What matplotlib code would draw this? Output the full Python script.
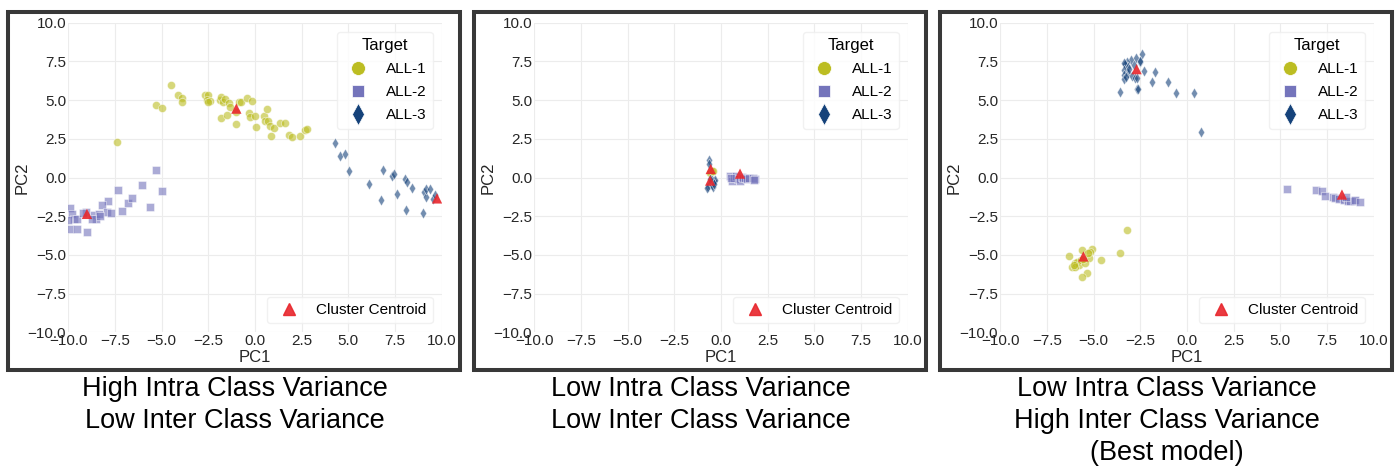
import matplotlib.pyplot as plt
from matplotlib.lines import Line2D
from matplotlib.patches import Rectangle

plt.rcParams['font.family'] = ['Liberation Sans', 'DejaVu Sans']

##########################################################################################
# Data
classes = ['ALL-1', 'ALL-2', 'ALL-3']
captions = ['High Intra Class Variance\nLow Inter Class Variance',
            'Low Intra Class Variance\nLow Inter Class Variance',
            'Low Intra Class Variance\nHigh Inter Class Variance\n(Best model)']
ticks = [-10, -7.5, -5, -2.5, 0, 2.5, 5, 7.5, 10]

# panel 1: high intra / low inter
p1_all1_x = [-4.5, -4.1, -3.9, -3.9, -5.3, -5.0, -7.4, -2.7, -2.5, -2.55, -2.4, -2.5, -1.9, -1.8,
             -1.7, -1.6, -1.4, -1.35, -1.8, -1.5, -1.0, -1.0, -0.85, -0.75, -0.45, -0.15, -0.3,
             -0.25, 0.0, 0.05, 0.5, 0.65, 0.55, 0.7, 0.8, 1.0, 0.85, 1.35, 1.6, 1.8, 2.0, 2.4, 2.7, 2.8]
p1_all1_y = [6.0, 5.35, 5.15, 4.9, 4.7, 4.5, 2.3, 5.3, 5.3, 5.0, 4.95, 4.85, 5.0, 5.2,
             4.85, 5.05, 4.8, 4.55, 3.85, 4.05, 3.45, 4.25, 4.85, 4.85, 5.15, 4.95, 4.15,
             3.9, 3.95, 3.25, 4.0, 4.4, 3.65, 3.65, 3.35, 3.2, 2.7, 3.5, 3.5, 2.75, 2.6, 2.65, 3.1, 3.15]
p1_all2_x = [-5.3, -5.0, -6.05, -5.6, -7.35, -7.85, -8.2, -7.95, -7.7, -7.1, -6.8, -6.6, -9.9,
             -9.8, -9.7, -9.55, -9.9, -9.55, -9.0, -9.05, -8.6, -8.5, -8.35, -8.3, -8.75, -9.2, -10.0]
p1_all2_y = [0.5, -0.85, -0.5, -1.9, -0.8, -1.5, -1.75, -2.25, -2.3, -2.15, -1.65, -1.35, -1.95,
             -2.35, -2.65, -2.7, -3.3, -3.3, -3.5, -2.25, -2.45, -2.7, -2.35, -2.5, -2.65, -2.3, -2.75]
p1_all3_x = [4.3, 4.55, 4.8, 5.05, 6.1, 6.85, 6.75, 7.35, 7.45, 7.6, 8.05, 8.15, 8.4, 8.1,
             9.0, 9.05, 9.15, 9.15, 9.4, 9.55, 9.65]
p1_all3_y = [2.25, 1.4, 1.5, 0.45, -0.4, 0.5, -1.45, 0.1, 0.2, -1.05, -0.1, -0.3, -0.7, -2.1,
             -2.3, -0.95, -1.25, -0.75, -0.75, -1.4, -1.15]
p1_cent_x = [-1.0, -9.0, 9.75]
p1_cent_y = [4.45, -2.35, -1.35]

# panel 2: low intra / low inter
p2_all1_x = [-0.55, -0.5, -0.6, -0.45]
p2_all1_y = [0.35, 0.45, 0.3, 0.4]
p2_all2_x = [0.5, 0.6, 0.7, 0.8, 0.9, 1.0, 1.1, 1.2, 1.3, 1.4, 1.5, 1.7, 1.8, 1.75, 0.55]
p2_all2_y = [0.1, -0.2, 0.0, 0.1, -0.1, -0.25, 0.05, -0.05, 0.0, -0.1, -0.05, 0.0, -0.1, -0.15, 0.0]
p2_all3_x = [-0.64, -0.62, -0.7, -0.65, -0.6, -0.55, -0.5, -0.45, -0.4, -0.35, -0.3, -0.75,
             -0.5, -0.6, -0.45, -0.35]
p2_all3_y = [1.1, 0.9, -0.6, -0.5, -0.4, -0.3, -0.5, -0.35, -0.25, -0.2, -0.15, -0.7,
             -0.15, -0.1, -0.6, -0.4]
p2_cent_x = [-0.55, 1.02, -0.58]
p2_cent_y = [0.55, 0.25, -0.2]

# panel 3: low intra / high inter (best model)
p3_all1_x = [-3.2, -3.6, -4.6, -5.1, -5.2, -5.25, -5.65, -6.3, -6.15, -6.0, -5.9, -5.8, -5.7,
             -5.45, -5.35, -5.65, -6.0, -6.05, -5.55, -5.3]
p3_all1_y = [-3.4, -4.85, -5.35, -4.65, -4.8, -5.2, -4.7, -5.05, -5.75, -5.55, -5.45, -5.65, -5.35,
             -5.5, -6.2, -6.45, -5.75, -5.65, -5.25, -4.9]
p3_all2_x = [5.35, 6.9, 7.25, 7.4, 7.8, 7.95, 8.15, 8.4, 8.6, 8.75, 8.95, 9.0, 9.25, 8.5]
p3_all2_y = [-0.75, -0.8, -0.9, -1.2, -1.25, -1.35, -1.4, -1.45, -1.5, -1.55, -1.55, -1.45, -1.6, -1.25]
p3_all3_x = [-2.4, -2.75, -3.0, -3.2, -3.3, -3.4, -3.15, -3.35, -3.15, -3.4, -3.4, -3.25, -2.95,
             -2.8, -2.7, -2.5, -2.5, -2.3, -1.7, -1.85, -1.0, -2.7, -2.65, -3.6, -0.6, 0.4, 0.75,
             -2.85, -3.1]
p3_all3_y = [8.0, 7.75, 7.6, 7.45, 7.3, 7.4, 7.15, 6.95, 6.75, 6.65, 6.35, 6.5, 6.55,
             6.4, 6.45, 7.45, 7.5, 6.9, 6.8, 6.2, 6.2, 5.7, 5.7, 5.5, 5.45, 5.45, 2.95,
             7.25, 7.0]
p3_cent_x = [-5.55, 8.3, -2.7]
p3_cent_y = [-5.1, -1.1, 7.0]

panels = [
    [(p1_all1_x, p1_all1_y), (p1_all2_x, p1_all2_y), (p1_all3_x, p1_all3_y), (p1_cent_x, p1_cent_y)],
    [(p2_all1_x, p2_all1_y), (p2_all2_x, p2_all2_y), (p2_all3_x, p2_all3_y), (p2_cent_x, p2_cent_y)],
    [(p3_all1_x, p3_all1_y), (p3_all2_x, p3_all2_y), (p3_all3_x, p3_all3_y), (p3_cent_x, p3_cent_y)],
]

##########################################################################################
# Styles
colors = ['#bcbd22', '#7474bb', '#15427a']
markers = ['o', 's', 'd']
sizes = [34, 26, 30]
leg_ms = [10, 9, 11]
red = '#e8262c'
border = '#383838'

##########################################################################################
# Figure
fig = plt.figure(figsize=(13.98, 4.68), dpi=100)

ax_left = [68.3, 534.3, 1000.3]
box_left = [8.3, 474.3, 940.3]
W, H = 1398.0, 468.0
tick_labels = [('%.1f' % v).replace('-', '\u2212') for v in ticks]

for i, data in enumerate(panels):
    ax = fig.add_axes([ax_left[i] / W, 1 - 332.3 / H, 373.4 / W, 309.6 / H])
    ax.set_xlim(-10, 10)
    ax.set_ylim(-10, 10)
    ax.set_xticks(ticks)
    ax.set_yticks(ticks)
    ax.set_xticklabels(tick_labels)
    ax.set_yticklabels(tick_labels)
    ax.tick_params(length=0, pad=1.5, labelsize=11, labelcolor='#262626')
    ax.grid(True, color='#ececec', lw=0.8)
    ax.set_axisbelow(True)
    for s in ax.spines.values():
        s.set_visible(False)
    ax.set_xlabel('PC1', fontsize=12, labelpad=1, color='#262626')
    ax.set_ylabel('PC2', fontsize=12, labelpad=-1.5, color='#262626')

    for k in range(3):
        xs, ys = data[k]
        ax.scatter(xs, ys, s=sizes[k], marker=markers[k], color=colors[k], alpha=0.6,
                   edgecolors='white', linewidths=0.5, zorder=3)
    cx, cy = data[3]
    ax.scatter(cx, cy, s=55, marker='^', color=red, alpha=0.9, edgecolors='none', zorder=4)

    # legends
    handles = [Line2D([], [], ls='none', marker=markers[k], color=colors[k], ms=leg_ms[k],
                      markeredgecolor='white', markeredgewidth=0.5) for k in range(3)]
    leg1 = ax.legend(handles, classes, title='Target', loc='upper right', fontsize=11,
                     title_fontsize=12, frameon=True, borderaxespad=0.6, labelspacing=0.6)
    leg1.get_frame().set_edgecolor('#eeeeee')
    ax.add_artist(leg1)
    h2 = [Line2D([], [], ls='none', marker='^', color=red, ms=8, alpha=0.9)]
    leg2 = ax.legend(h2, ['Cluster Centroid'], loc='lower right', fontsize=11,
                     frameon=True, borderaxespad=0.6)
    leg2.get_frame().set_edgecolor('#eeeeee')

    # dark frame around each panel
    fig.patches.append(Rectangle((box_left[i] / W, 1 - 370 / H), 451.7 / W, 357.7 / H,
                                 transform=fig.transFigure, fill=False, ec=border, lw=2.9))

    fig.text((box_left[i] + 227) / W, 1 - 376 / H, captions[i], ha='center', va='top',
             fontsize=19.5, linespacing=1.3, color='black')

fig.savefig('out.png', dpi=100)
plt.close(fig)
